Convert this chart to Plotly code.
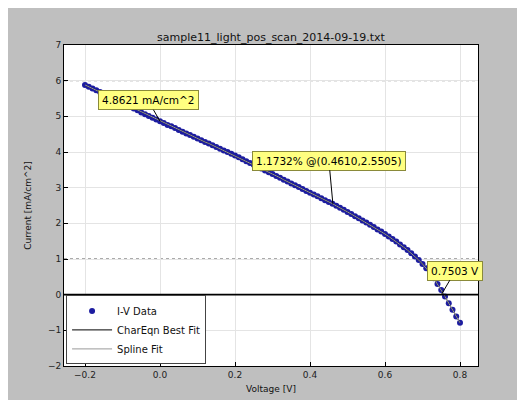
import plotly.graph_objects as go

# ---- data ----
voltage = [-0.20, -0.19, -0.18, -0.17, -0.16, -0.15, -0.14, -0.13, -0.12, -0.11,
           -0.10, -0.09, -0.08, -0.07, -0.06, -0.05, -0.04, -0.03, -0.02, -0.01,
           0.00, 0.01, 0.02, 0.03, 0.04, 0.05, 0.06, 0.07, 0.08, 0.09,
           0.10, 0.11, 0.12, 0.13, 0.14, 0.15, 0.16, 0.17, 0.18, 0.19,
           0.20, 0.21, 0.22, 0.23, 0.24, 0.25, 0.26, 0.27, 0.28, 0.29,
           0.30, 0.31, 0.32, 0.33, 0.34, 0.35, 0.36, 0.37, 0.38, 0.39,
           0.40, 0.41, 0.42, 0.43, 0.44, 0.45, 0.46, 0.47, 0.48, 0.49,
           0.50, 0.51, 0.52, 0.53, 0.54, 0.55, 0.56, 0.57, 0.58, 0.59,
           0.60, 0.61, 0.62, 0.63, 0.64, 0.65, 0.66, 0.67, 0.68, 0.69,
           0.70, 0.71, 0.72, 0.73, 0.74, 0.75, 0.76, 0.77, 0.78, 0.79, 0.80]
current = [5.88, 5.83, 5.78, 5.73, 5.68, 5.62, 5.57, 5.52, 5.47, 5.42,
           5.37, 5.32, 5.27, 5.22, 5.17, 5.11, 5.06, 5.01, 4.96, 4.91,
           4.86, 4.81, 4.76, 4.72, 4.67, 4.62, 4.57, 4.52, 4.48, 4.43,
           4.38, 4.33, 4.28, 4.24, 4.19, 4.14, 4.09, 4.04, 4.00, 3.95,
           3.90, 3.85, 3.80, 3.74, 3.69, 3.64, 3.59, 3.54, 3.48, 3.43,
           3.38, 3.33, 3.28, 3.22, 3.17, 3.12, 3.07, 3.02, 2.96, 2.91,
           2.86, 2.81, 2.76, 2.70, 2.65, 2.60, 2.55, 2.49, 2.44, 2.38,
           2.32, 2.26, 2.20, 2.14, 2.08, 2.02, 1.96, 1.90, 1.83, 1.77,
           1.70, 1.63, 1.56, 1.49, 1.41, 1.33, 1.25, 1.16, 1.07, 0.97,
           0.86, 0.74, 0.61, 0.46, 0.30, 0.13, -0.05, -0.24, -0.42, -0.61, -0.79]

isc = 4.8621
mpp_v, mpp_i, eff = 0.4610, 2.5505, 1.1732
voc = 0.7503

title = "sample11_light_pos_scan_2014-09-19.txt"
x_ticks = [-0.2, 0.0, 0.2, 0.4, 0.6, 0.8]
y_ticks = [-2, -1, 0, 1, 2, 3, 4, 5, 6, 7]
dotted_levels = [6, 1]

FONT = "DejaVu Sans"
W, H = 517, 392  # the page adds an 8px body margin on the left/top

fig = go.Figure()
fig.add_trace(go.Scatter(x=voltage, y=current, mode="markers", name="I-V Data",
                         marker=dict(color="#1c1ca0", size=6, line=dict(width=0))))
fig.add_trace(go.Scatter(x=voltage, y=current, mode="lines", name="CharEqn Best Fit",
                         line=dict(color="black", width=1)))
fig.add_trace(go.Scatter(x=voltage, y=current, mode="lines", name="Spline Fit",
                         line=dict(color="#9a9a9a", width=1)))

shapes = [dict(type="line", xref="paper", x0=0, x1=1, yref="y", y0=0, y1=0,
               line=dict(color="black", width=1.6), layer="above")]
for lv in dotted_levels:
    shapes.append(dict(type="line", xref="paper", x0=0, x1=1, yref="y", y0=lv, y1=lv,
                       line=dict(color="#555555", width=1, dash="dot"), layer="below"))

box = dict(bgcolor="#ffff80", bordercolor="#8a8a3a", borderwidth=1, borderpad=3,
           showarrow=True, arrowhead=0, arrowwidth=1, arrowcolor="black",
           font=dict(family=FONT, size=10.5, color="black"))
annotations = [
    dict(x=0.0, y=isc, text=f"{isc:.4f} mA/cm^2", ax=-12, ay=-21, **box),
    dict(x=mpp_v, y=mpp_i, text=f"{eff:.4f}% @({mpp_v:.4f},{mpp_i:.4f})", ax=-4, ay=-43, **box),
    dict(x=voc, y=0, text=f"{voc:.4f} V", ax=14, ay=-24, **box),
]

fig.update_layout(
    width=W, height=H,
    margin=dict(l=56, r=47, t=37, b=34),
    paper_bgcolor="#bfbfbf", plot_bgcolor="white",
    font=dict(family=FONT, size=9, color="#222222"),
    title=dict(text=title, x=0.5, xref="paper", xanchor="center",
               y=1 - 29 / H, yref="container", yanchor="middle",
               font=dict(family=FONT, size=11, color="#111111")),
    showlegend=True,
    legend=dict(x=0.005, y=0.005, xanchor="left", yanchor="bottom",
                bgcolor="white", bordercolor="#444444", borderwidth=1,
                font=dict(family=FONT, size=10, color="#111111"),
                tracegroupgap=0, itemwidth=40, entrywidth=145),
    shapes=shapes,
    annotations=annotations,
)
fig.update_xaxes(range=[-0.256, 0.848], tickvals=x_ticks, tickformat=".1f",
                 automargin=False,
                 showgrid=True, gridcolor="#e4e4e4", zeroline=False,
                 showline=True, linecolor="black", linewidth=1, mirror=True,
                 ticks="inside", ticklen=4, tickcolor="black",
                 title=dict(text="Voltage [V]", standoff=6,
                            font=dict(family=FONT, size=9, color="#111111")))
fig.update_yaxes(range=[-2, 7], tickvals=y_ticks,
                 automargin=False,
                 showgrid=True, gridcolor="#e4e4e4", zeroline=False,
                 showline=True, linecolor="black", linewidth=1, mirror=True,
                 ticks="inside", ticklen=4, tickcolor="black",
                 title=dict(text="Current [mA/cm^2]", standoff=14,
                            font=dict(family=FONT, size=9, color="#111111")))

fig.write_html("out.html")
